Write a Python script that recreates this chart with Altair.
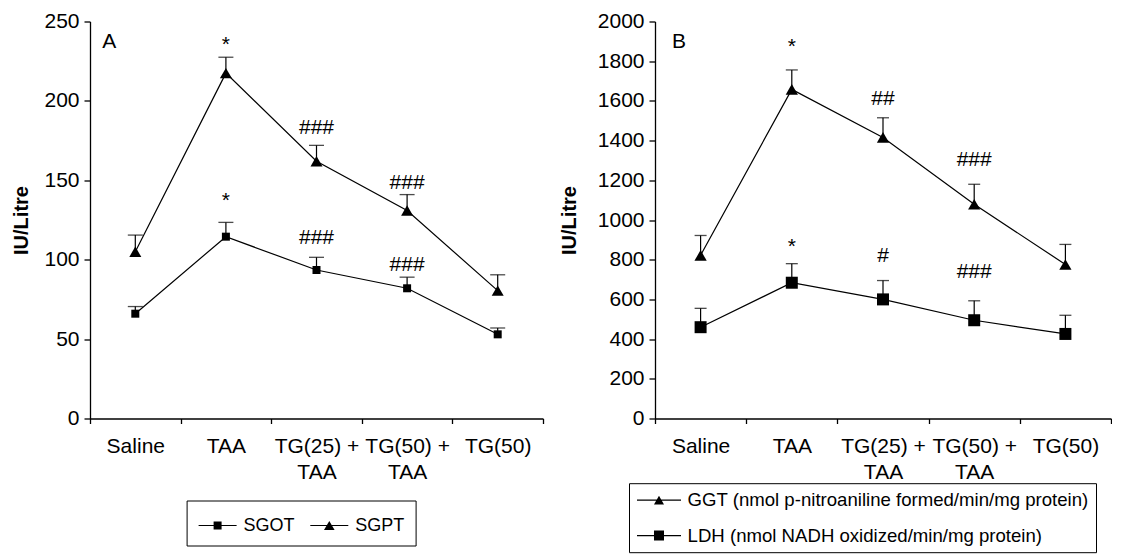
import altair as alt
import pandas as pd

FONT = "Liberation Sans"

categories = ["Saline", "TAA", "TG(25) +|TAA", "TG(50) +|TAA", "TG(50)"]

# Panel A (IU/Litre)
series_a = ["SGOT", "SGPT"]
sgot = [66, 114.5, 93.5, 82, 53]
sgot_err = [4.5, 9, 8, 7, 4]
sgpt = [105, 217.5, 162, 131, 80.5]
sgpt_err = [10.5, 10, 10, 10, 10]

ann_a_cat = ["TAA", "TAA", "TG(25) +|TAA", "TG(25) +|TAA", "TG(50) +|TAA", "TG(50) +|TAA"]
ann_a_y = [235.5, 137, 183, 113.5, 148.4, 96.7]
ann_a_text = ["*", "*", "###", "###", "###", "###"]

# Panel B
series_b = ["GGT (nmol p-nitroaniline formed/min/mg protein)",
            "LDH (nmol NADH oxidized/min/mg protein)"]
ggt = [822, 1658, 1416, 1079, 776]
ggt_err = [100, 98, 99, 101, 101]
ldh = [460, 684, 600, 495, 426]
ldh_err = [95, 96, 95, 98, 94]

ann_b_cat = ["TAA", "TAA", "TG(25) +|TAA", "TG(25) +|TAA", "TG(50) +|TAA", "TG(50) +|TAA"]
ann_b_y = [1870, 865, 1611, 817, 1301, 737]
ann_b_text = ["*", "*", "##", "#", "###", "###"]


def long_df(names, vals, errs):
    rows = []
    for name, v, e in zip(names, vals, errs):
        for c, vv, ee in zip(categories, v, e):
            rows.append({"cat": c, "series": name, "value": vv, "upper": vv + ee})
    return pd.DataFrame(rows)


def panel(df, ann_df, letter, letter_x, letter_y, ymax, ystep, width, height,
          title_pad, shapes, sizes, cap, leg_paths, leg_props):
    series = list(df["series"].unique())
    ysc = alt.Scale(domain=[0, ymax], nice=False, zero=True)
    yaxis = alt.Axis(values=list(range(0, ymax + 1, ystep)), titlePadding=title_pad, format="d")
    xenc = alt.X("cat:N", sort=categories, scale=alt.Scale(paddingInner=0, paddingOuter=0),
                 axis=alt.Axis(title=None, labelAngle=0, tickBand="extent",
                               labelExpr="isValid(datum.value) ? split(datum.value, '|') : ''"))

    def Y(field):
        return alt.Y(field, type="quantitative", scale=ysc, axis=yaxis, title="IU/Litre")

    base = alt.Chart(df)
    rule = base.mark_rule(color="black", strokeWidth=1.2).encode(x=xenc, y=Y("value"), y2="upper")
    capm = base.mark_tick(color="black", size=cap, thickness=1.3).encode(x=xenc, y=Y("upper"))
    line = base.mark_line(color="black", strokeWidth=1.2).encode(x=xenc, y=Y("value"), detail="series:N")
    pts = base.mark_point(filled=True, color="black", opacity=1).encode(
        x=xenc, y=Y("value"),
        shape=alt.Shape("series:N", scale=alt.Scale(domain=series, range=shapes), legend=None),
        size=alt.Size("series:N", scale=alt.Scale(domain=series, range=sizes), legend=None),
    )
    txt = alt.Chart(ann_df).mark_text(font=FONT, fontSize=21, color="black", baseline="middle").encode(
        x=xenc, y=Y("value"), text="text:N")
    lab = alt.Chart(pd.DataFrame({"value": [letter_y], "text": [letter]})).mark_text(
        font=FONT, fontSize=21, color="black", baseline="middle", align="center").encode(
        x=alt.value(letter_x), y=Y("value"), text="text:N")
    leg = alt.Chart(pd.DataFrame({"series": series})).transform_filter("false").mark_point(
        filled=True, fill="black", opacity=1).encode(
        shape=alt.Shape("series:N", scale=alt.Scale(domain=series, range=leg_paths),
                        legend=alt.Legend(title=None, orient="none", strokeColor="black",
                                          labelFont=FONT, labelColor="black", labelLimit=800,
                                          symbolFillColor="black", **leg_props)))
    return alt.layer(rule, capm, line, pts, txt, lab, leg).resolve_scale(
        shape="independent", size="independent").properties(width=width, height=height)


df_a = long_df(series_a, [sgot, sgpt], [sgot_err, sgpt_err])
df_b = long_df(series_b, [ggt, ldh], [ggt_err, ldh_err])
ann_a = pd.DataFrame({"cat": ann_a_cat, "value": ann_a_y, "text": ann_a_text})
ann_b = pd.DataFrame({"cat": ann_b_cat, "value": ann_b_y, "text": ann_b_text})

# legend glyphs: connecting line segment with the series marker in its middle
paths_a = ["M-1,-0.046H1.923V0.046H-1Z M0.154,-0.308H0.769V0.308H0.154Z",
           "M-1,-0.046H1.923V0.046H-1Z M0.4615,-0.354L0.8695,0.354H0.0535Z"]
paths_b = ["M-1,-0.067H3.889V0.067H-1Z M1.444,-0.481L2.0,0.481H0.888Z",
           "M-1,-0.067H3.889V0.067H-1Z M0.888,-0.556H2.0V0.556H0.888Z"]

pa = panel(df_a, ann_a, "A", 19.3, 237, 250, 50, 453, 397, 12,
           ["square", "triangle-up"], [64, 144], 15, paths_a,
           dict(legendX=96.6, legendY=479, direction="horizontal", padding=11,
                labelFontSize=18, labelOffset=18, columnPadding=11.7, symbolSize=676))
pb = panel(df_b, ann_b, "B", 24, 1899, 2000, 200, 456, 397, 18,
           ["triangle-up", "square"], [150, 144], 12, paths_b,
           dict(legendX=-26, legendY=461.7, direction="vertical", padding=7,
                labelFontSize=18.6, labelOffset=31.6, rowPadding=15.4, symbolSize=324))

chart = alt.hconcat(pa, pb, spacing=15).resolve_scale(
    shape="independent", size="independent", x="independent", y="independent"
).resolve_legend(shape="independent", size="independent").properties(
    padding={"left": 3, "top": 2.5, "right": 0, "bottom": 0}
).configure_view(stroke=None).configure_axis(
    labelFont=FONT, labelFontSize=21, labelColor="black", domainColor="black",
    tickColor="black", grid=False, tickSize=6, labelPadding=5, domainWidth=1.3, tickWidth=1.3,
    titleFont=FONT, titleFontSize=20, titleFontWeight="bold", titleColor="black"
).configure_axisX(tickSize=5, labelPadding=12, labelLineHeight=26)

chart.save("out.html", embed_options={"renderer": "svg", "actions": False})
